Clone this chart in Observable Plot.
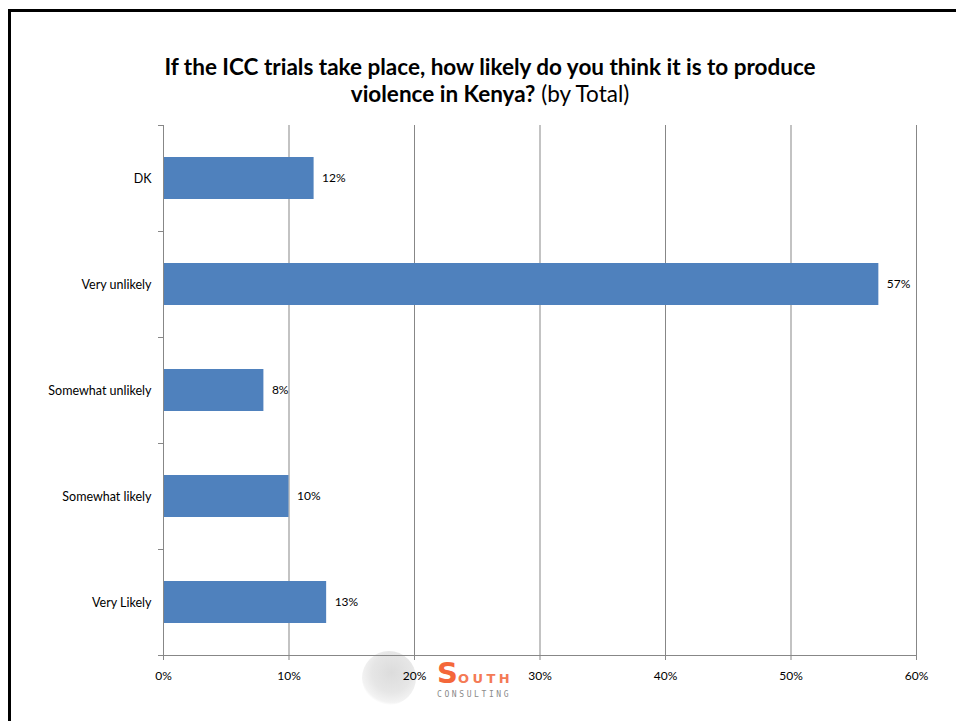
<!DOCTYPE html>
<html>
<head>
<meta charset="utf-8">
<script src="https://cdn.jsdelivr.net/npm/d3@7"></script>
<script src="https://cdn.jsdelivr.net/npm/@observablehq/plot@0.6"></script>
<style>
  html, body { margin: 0; padding: 0; background: #fff; }
  #page { position: relative; width: 956px; height: 721px; overflow: hidden; font-family: Lato, "Open Sans", sans-serif; }
  #frame { position: absolute; left: 8px; top: 9px; width: 1000px; height: 1000px; border-left: 3px solid #000; border-top: 3px solid #000; box-sizing: border-box; }
  #title { position: absolute; left: 0; width: 980px; top: 53px; text-align: center; font-size: 22.5px; line-height: 27px; color: #000; }
  #title b { font-weight: 700; }
  #chart { position: absolute; left: 0; top: 0; }
  #globe { position: absolute; left: 362px; top: 651px; width: 54px; height: 54px; border-radius: 50%;
           background: radial-gradient(circle at 55% 40%, #dcdcdc 0%, #e6e6e6 45%, rgba(238,238,238,0.7) 68%, rgba(255,255,255,0) 74%); }
  #logo { position: absolute; left: 437px; top: 656px; color: #f4673a; font-family: "DejaVu Sans", sans-serif; font-weight: 700; }
  #logo .s { font-size: 29px; }
  #logo .outh { font-size: 13px; letter-spacing: 3.5px; color: #f47a55; }
  #consult { position: absolute; left: 437px; top: 690px; font-size: 8px; color: #8a8a8a; letter-spacing: 2.6px; font-family: "DejaVu Sans Mono", monospace; }
</style>
</head>
<body>
<div id="page">
  <div id="frame"></div>
  <div id="globe"></div>
  <div id="title"><b>If the ICC trials take place, how likely do you think it is to produce<br>violence in Kenya?</b> (by Total)</div>
  <div id="chart"></div>
  <div id="logo"><span class="s">S</span><span class="outh">OUTH</span></div>
  <div id="consult">CONSULTING</div>
</div>
<script>
const categories = ["DK", "Very unlikely", "Somewhat unlikely", "Somewhat likely", "Very Likely"];
const values = [12, 57, 8, 10, 13];
const xTicks = [0, 0.1, 0.2, 0.3, 0.4, 0.5, 0.6];

const data = categories.map((c, i) => ({category: c, value: values[i] / 100}));

const W = 956, H = 721, mT = 125, mB = 66;
const step = (H - mT - mB) / categories.length;
const pct = d3.format(".0%");
const font = "Lato, 'Open Sans', sans-serif";

const chart = Plot.plot({
  width: W,
  height: H,
  marginLeft: 163,
  marginRight: 40,
  marginTop: mT,
  marginBottom: mB,
  style: {fontFamily: font, fontSize: "12px", color: "#000", background: "transparent"},
  x: {domain: [0, 0.6], ticks: xTicks, tickFormat: pct},
  y: {domain: categories, paddingInner: 0.6, paddingOuter: 0.3},
  marks: [
    Plot.gridX(xTicks.slice(1), {stroke: "#878787", strokeOpacity: 1, strokeWidth: 1}),
    Plot.barX(data, {x: "value", y: "category", fill: "#4f81bd"}),
    Plot.text(data, {x: "value", y: "category", text: d => pct(d.value), textAnchor: "start", dx: 8, fill: "#000", fontSize: 12}),
    Plot.ruleX([0], {stroke: "#878787", strokeWidth: 1}),
    Plot.frame({anchor: "bottom", stroke: "#878787", strokeWidth: 1}),
    Plot.ruleY(categories, {y: d => d, x1: 0, x2: 0, insetLeft: -5, dy: -step / 2, stroke: "#878787"}),
    Plot.ruleY(categories.slice(-1), {y: d => d, x1: 0, x2: 0, insetLeft: -5, dy: step / 2, stroke: "#878787"}),
    Plot.axisX({ticks: xTicks, tickFormat: pct, tickSize: 5, tickPadding: 11, stroke: "#878787", fill: "#000", fontSize: 12, label: null}),
    Plot.axisY({tickSize: 0, tickPadding: 12, fontSize: 12.5, fill: "#000", label: null})
  ]
});
document.getElementById("chart").appendChild(chart);
</script>
</body>
</html>
